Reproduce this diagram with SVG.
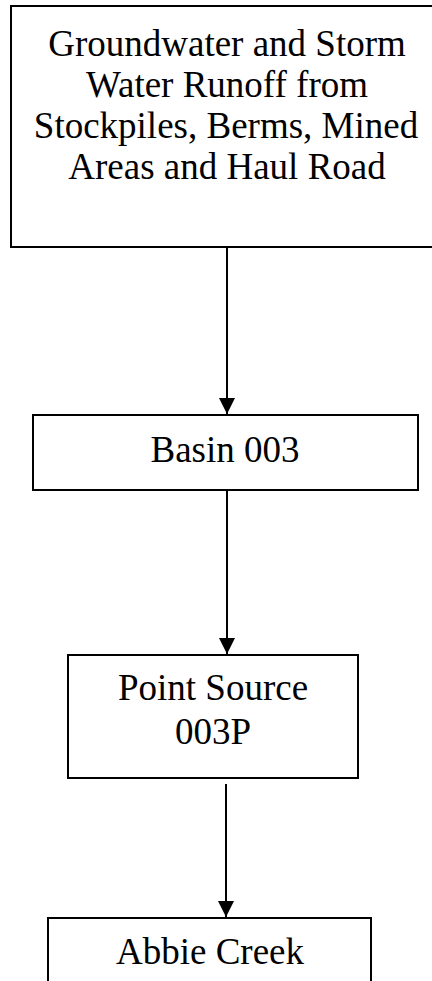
<svg xmlns="http://www.w3.org/2000/svg" width="432" height="981" viewBox="0 0 432 981">
<style>
.box{fill:#fff;stroke:#000;stroke-width:2}
.lbl{font-family:'Liberation Serif','Times New Roman',serif;font-size:37px;fill:#000;text-anchor:middle}
.conn{stroke:#000;stroke-width:2;fill:none}
</style>
<defs>
<marker id="ah" markerUnits="userSpaceOnUse" markerWidth="16" markerHeight="16" viewBox="0 0 16 16" refX="16" refY="8" orient="auto">
<path d="M0,0 L16,8 L0,16 Z" fill="#000"/>
</marker>
</defs>
<g id="n1">
<rect class="box" x="11" y="6" width="450" height="241"/>
<text class="lbl" x="227" y="56">Groundwater and Storm</text>
<text class="lbl" x="227" y="97">Water Runoff from</text>
<text class="lbl" x="226" y="138">Stockpiles, Berms, Mined</text>
<text class="lbl" x="227" y="179">Areas and Haul Road</text>
</g>
<g id="n2">
<rect class="box" x="33" y="415" width="385" height="75"/>
<text class="lbl" x="225" y="462">Basin 003</text>
</g>
<g id="n3">
<rect class="box" x="68" y="655" width="290" height="123"/>
<text class="lbl" x="213" y="700">Point Source</text>
<text class="lbl" x="213" y="744">003P</text>
</g>
<g id="n4">
<rect class="box" x="48" y="918" width="323" height="80"/>
<text class="lbl" x="210" y="964">Abbie Creek</text>
</g>
<g id="connectors">
<line class="conn" x1="227" y1="247" x2="227" y2="414" marker-end="url(#ah)"/>
<line class="conn" x1="227" y1="490" x2="227" y2="654" marker-end="url(#ah)"/>
<line class="conn" x1="226" y1="784" x2="226" y2="917" marker-end="url(#ah)"/>
</g>
</svg>
